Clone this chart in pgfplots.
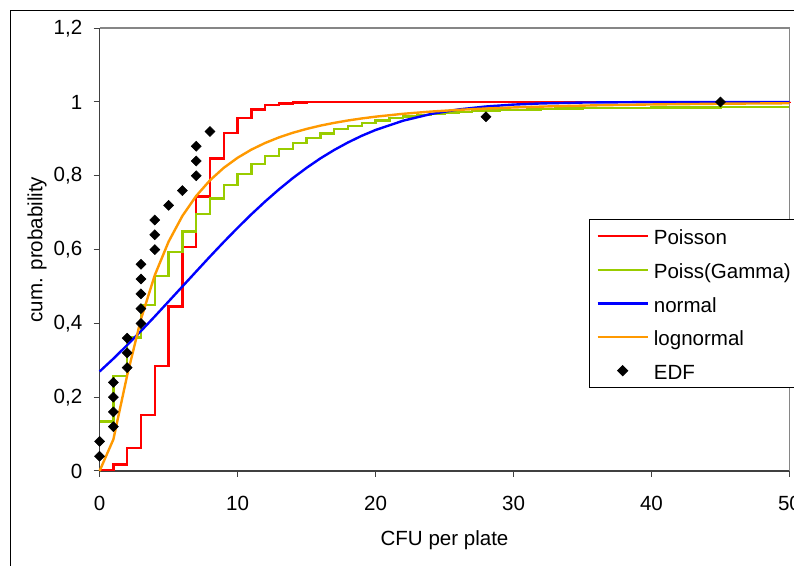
\documentclass[border=0pt]{standalone}
\usepackage{pgfplots}
\pgfplotsset{compat=1.18}
\usepackage{fontspec}
\setmainfont{Liberation Sans}
\newcommand\fs{\fontsize{15.4pt}{18pt}\selectfont}
\definecolor{xred}{RGB}{255,0,0}
\definecolor{xgreen}{RGB}{153,204,0}
\definecolor{xblue}{RGB}{0,0,255}
\definecolor{xorange}{RGB}{255,153,0}
\definecolor{axgray}{RGB}{134,134,134}
\definecolor{axdark}{RGB}{64,64,64}
\begin{document}
\begin{tikzpicture}
\draw[black, line width=0.75pt] (-66.8pt,-90pt) rectangle (560pt,345.4pt);
\begin{axis}[
  at={(0pt,0pt)}, anchor=south west,
  scale only axis, width=517.4pt, height=332.1pt,
  xmin=0, xmax=50, ymin=0, ymax=1.2,
  clip=false,
  axis x line*=bottom, axis y line*=left,
  axis line style={-, draw=axdark, line width=1.1pt},
  xtick={0,10,20,30,40,50},
  ytick={0,0.2,0.4,0.6,0.8,1,1.2},
  tick align=outside, major tick length=4.5pt,
  tick style={draw=axdark, line width=0.75pt},
  every tick label/.append style={font=\fs, text=black},
  xticklabel style={yshift=-11pt},
  yticklabel style={xshift=-5pt},
  /pgf/number format/use comma, /pgf/number format/fixed, /pgf/number format/precision=1, /pgf/number format/assume math mode=true,
  xlabel={CFU per plate}, ylabel={cum. probability},
  label style={font=\fs},
  xlabel style={at={(axis description cs:0.5,-0.1558)}, anchor=center},
  ylabel style={at={(axis description cs:-0.0907,0.5)}, anchor=center},
  legend style={at={(0.7094,0.5691)}, anchor=north west, draw=black, line width=0.75pt, fill=white, font=\fs, inner xsep=5.25pt, inner ysep=3.2pt, row sep=6.4pt, column sep=3.75pt, nodes={inner sep=0pt, text height=15.8pt, text depth=3pt}},
  legend cell align=left,
  legend image code/.code={\draw[mark repeat=2,mark phase=2,#1] plot coordinates {(0pt,0pt) (18.75pt,0pt) (37.5pt,0pt)};},
]
\draw[axgray, line width=1.1pt] (rel axis cs:0,1) -- (rel axis cs:1,1) -- (rel axis cs:1,0);

\addplot[const plot, xred, line width=1.8pt] coordinates {
(0,0.0025)(1,0.0174)(2,0.0620)(3,0.1512)(4,0.2851)(5,0.4457)(6,0.6063)(7,0.7440)(8,0.8472)(9,0.9161)(10,0.9574)(11,0.9799)(12,0.9912)(13,0.9964)(14,0.9986)(15,0.9995)(16,0.9998)(50,1.0)};
\addlegendentry{Poisson}

\addplot[const plot, xgreen, line width=1.8pt] coordinates {
(0,0.134)(1,0.257)(2,0.362)(3,0.450)(4,0.528)(5,0.593)(6,0.649)(7,0.696)(8,0.739)(9,0.775)(10,0.805)(11,0.832)(12,0.854)(13,0.872)(14,0.889)(15,0.903)(16,0.915)(17,0.926)(18,0.935)(19,0.943)(20,0.950)(21,0.956)(22,0.961)(23,0.965)(24,0.968)(25,0.971)(26,0.973)(27,0.975)(28,0.977)(29,0.978)(30,0.979)(31,0.980)(32,0.981)(33,0.982)(35,0.983)(40,0.985)(45,0.986)(50,0.986)};
\addlegendentry{Poiss(Gamma)}

\addplot[xblue, line width=1.8pt] coordinates {
(0,0.2696)(1,0.3044)(2,0.3412)(3,0.3794)(4,0.4189)(5,0.4594)(6,0.5)(7,0.5406)(8,0.5811)(9,0.6206)(10,0.6588)(11,0.6956)(12,0.7304)(13,0.7631)(14,0.7936)(15,0.8215)(16,0.8471)(17,0.8699)(18,0.8903)(19,0.9084)(20,0.9241)(22,0.9493)(24,0.9673)(26,0.9797)(28,0.9878)(30,0.9930)(32,0.9961)(35,0.9985)(40,0.9998)(45,1.0)(50,1.0)};
\addlegendentry{normal}

\addplot[xorange, line width=1.8pt] coordinates {
(0,0)(1,0.0858)(2,0.2594)(3,0.4118)(4,0.5306)(5,0.6214)(6,0.6912)(7,0.7453)(8,0.7878)(9,0.8216)(10,0.8488)(11,0.8709)(12,0.8890)(13,0.9040)(14,0.9165)(15,0.9270)(16,0.9359)(17,0.9434)(18,0.9499)(19,0.9554)(20,0.9602)(22,0.9680)(24,0.9740)(26,0.9787)(28,0.9823)(30,0.9852)(33,0.9885)(36,0.9910)(40,0.9933)(45,0.9953)(50,0.9966)};
\addlegendentry{lognormal}

\addplot[only marks, mark=square*, mark size=2.65pt, mark options={rotate=45, fill=black, draw=black}] coordinates {
(0,0.04)(0,0.08)(1,0.12)(1,0.16)(1,0.2)(1,0.24)(2,0.28)(2,0.32)(2,0.36)(3,0.4)(3,0.44)(3,0.48)(3,0.52)(3,0.56)(4,0.6)(4,0.64)(4,0.68)(5,0.72)(6,0.76)(7,0.8)(7,0.84)(7,0.88)(8,0.92)(28,0.96)(45,1)};
\addlegendentry{EDF\hspace*{0pt}}
\end{axis}
\pgfresetboundingbox
\useasboundingbox (-74.7pt,-71.25pt) rectangle (520.8pt,353.25pt);
\end{tikzpicture}
\end{document}
